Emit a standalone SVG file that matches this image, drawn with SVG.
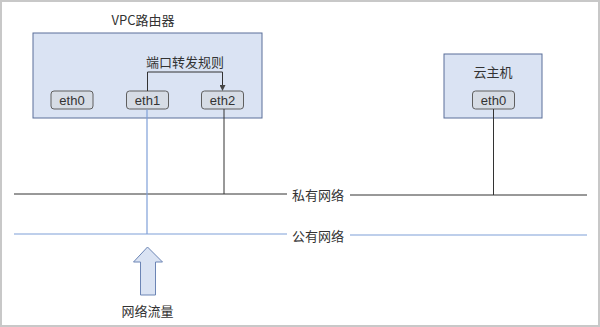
<svg xmlns="http://www.w3.org/2000/svg" width="600" height="327" viewBox="0 0 600 327">
<defs>
<style>
text{font-family:"Noto Sans CJK SC","Liberation Sans",sans-serif;fill:#333;font-size:13px;text-anchor:middle;dominant-baseline:central}
.box{fill:#dae3f3;stroke:#5a6f99;stroke-width:1}
.port{fill:#d6dce5;stroke:#5f5f5f;stroke-width:1}
.port-t{font-family:"Liberation Sans","Noto Sans",sans-serif;font-size:13px}
.blk{stroke:#333;stroke-width:1;fill:none}
.blu{stroke:#7f9fd8;stroke-width:1.2;fill:none}
</style>
<marker id="ah" markerWidth="6" markerHeight="6" refX="5" refY="3" orient="auto" markerUnits="userSpaceOnUse">
<path d="M0,0 L6,3 L0,6 z" fill="#444"/>
</marker>
</defs>
<rect x="1" y="1" width="598" height="325" fill="#fff" stroke="#c8c8c8" stroke-width="2"/>

<g id="vpc-router">
<rect class="box" x="33" y="33" width="229" height="85"/>
<text x="143" y="19">VPC路由器</text>
<text x="185" y="61">端口转发规则</text>
</g>
<g id="router-eth0">
<rect class="port" x="51" y="91" width="42" height="18" rx="3"/>
<text class="port-t" x="72" y="100">eth0</text>
</g>
<g id="router-eth1">
<rect class="port" x="126.5" y="91" width="42" height="18" rx="3"/>
<text class="port-t" x="147.5" y="100">eth1</text>
</g>
<g id="router-eth2">
<rect class="port" x="201.5" y="91" width="42" height="18" rx="3"/>
<text class="port-t" x="222.5" y="100">eth2</text>
</g>

<g id="cloud-host">
<rect class="box" x="444" y="54" width="98" height="64"/>
<text x="493" y="71">云主机</text>
</g>
<g id="host-eth0">
<rect class="port" x="472.5" y="91" width="42" height="18" rx="3"/>
<text class="port-t" x="493.5" y="100">eth0</text>
</g>

<g id="private-label"><text x="318" y="194">私有网络</text></g>
<g id="public-label"><text x="318" y="235">公有网络</text></g>

<g id="traffic">
<path d="M147.5,247 L162.5,262 L155.5,262 L155.5,295 L140.5,295 L140.5,262 L133.5,262 Z" fill="#dae3f3" stroke="#6c85b5" stroke-width="1"/>
<text x="147.5" y="310">网络流量</text>
</g>

<g id="connectors">
<line class="blk" x1="14" y1="194" x2="287" y2="194"/>
<line class="blk" x1="350" y1="195" x2="587" y2="195"/>
<line class="blu" x1="14" y1="234" x2="287" y2="234"/>
<line class="blu" x1="350" y1="235" x2="587" y2="235"/>
<line class="blu" x1="147" y1="109" x2="147" y2="234"/>
<line class="blk" x1="224" y1="109" x2="224" y2="194"/>
<line class="blk" x1="493.5" y1="109" x2="493.5" y2="195"/>
<polyline class="blk" points="147.5,91 147.5,72 222.5,72 222.5,90" stroke="#555" marker-end="url(#ah)"/>
</g>
</svg>
